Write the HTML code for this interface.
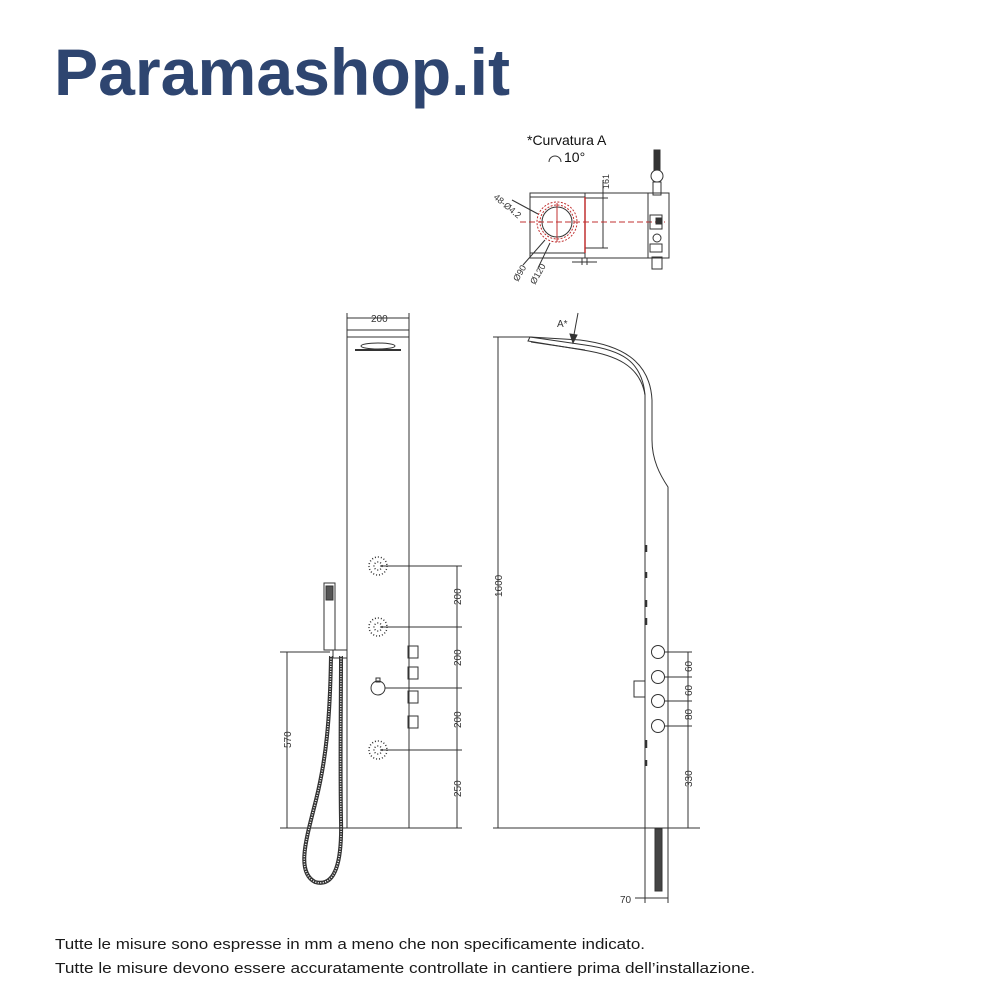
<!DOCTYPE html>
<html><head><meta charset="utf-8"><style>
html,body{margin:0;padding:0;background:#fff;width:1000px;height:1000px;overflow:hidden}
svg{display:block}
</style></head><body>
<svg width="1000" height="1000" viewBox="0 0 1000 1000" xmlns="http://www.w3.org/2000/svg">
<text x="54" y="95" font-family="Liberation Sans, sans-serif" font-weight="bold" font-size="66" fill="#2e4570" textLength="456" lengthAdjust="spacingAndGlyphs">Paramashop.it</text>

<g font-family="Liberation Sans, sans-serif" fill="#1a1a1a">
<text x="55" y="949" font-size="15" textLength="590" lengthAdjust="spacingAndGlyphs">Tutte le misure sono espresse in mm a meno che non specificamente indicato.</text>
<text x="55" y="973" font-size="15" textLength="700" lengthAdjust="spacingAndGlyphs">Tutte le misure devono essere accuratamente controllate in cantiere prima dell’installazione.</text>
</g>

<!-- top view -->
<g stroke="#333" stroke-width="1" fill="none">
<text x="527" y="145" font-family="Liberation Sans, sans-serif" font-size="14" fill="#111" stroke="none">*Curvatura A</text>
<path d="M549 162 a6 6 0 0 1 12 0"/>
<text x="564" y="162" font-family="Liberation Sans, sans-serif" font-size="14" fill="#111" stroke="none">10°</text>
<rect x="530" y="193" width="139" height="65"/>
<line x1="530" y1="197" x2="585" y2="197"/>
<line x1="530" y1="253" x2="585" y2="253"/>
<line x1="585" y1="193" x2="585" y2="258"/>
<line x1="648" y1="193" x2="648" y2="258"/>
<line x1="585" y1="198" x2="608" y2="198"/>
<line x1="585" y1="248" x2="608" y2="248"/>
<line x1="603" y1="180" x2="603" y2="248"/>
<text x="600" y="186" font-family="Liberation Sans, sans-serif" font-size="9" fill="#333" stroke="none" transform="rotate(-90 606 183)">161</text>
<line x1="582" y1="258" x2="582" y2="265"/><line x1="587" y1="258" x2="587" y2="265"/>
<line x1="572" y1="262" x2="597" y2="262"/>
<circle cx="557" cy="222" r="15" stroke="#333"/>
<circle cx="557" cy="222" r="20" stroke="#c03030" stroke-dasharray="2 1.5"/>
<circle cx="557" cy="222" r="17" stroke="#c03030" stroke-dasharray="2 1.5"/>
<line x1="520" y1="222" x2="665" y2="222" stroke="#c03030" stroke-dasharray="6 3"/>
<line x1="557" y1="203" x2="557" y2="242" stroke="#c03030"/>
<line x1="585" y1="197" x2="585" y2="253" stroke="#c03030" stroke-width="1.5"/>
<line x1="512" y1="200" x2="538" y2="214"/>
<line x1="523" y1="265" x2="545" y2="240"/>
<line x1="538" y1="268" x2="550" y2="243"/>
<text x="493" y="198" font-family="Liberation Sans, sans-serif" font-size="9" fill="#333" stroke="none" transform="rotate(40 493 198)">48-Ø4.2</text>
<text x="518" y="282" font-family="Liberation Sans, sans-serif" font-size="9" fill="#333" stroke="none" transform="rotate(-60 518 282)">Ø90</text>
<text x="535" y="285" font-family="Liberation Sans, sans-serif" font-size="9" fill="#333" stroke="none" transform="rotate(-60 535 285)">Ø120</text>
<rect x="654" y="150" width="6" height="22" fill="#333"/>
<circle cx="657" cy="176" r="6" fill="#fff"/>
<rect x="653" y="182" width="8" height="13"/>
<rect x="650" y="215" width="12" height="14"/><rect x="656" y="218" width="6" height="6" fill="#333"/>
<circle cx="657" cy="238" r="4"/>
<rect x="650" y="244" width="12" height="8"/>
<rect x="652" y="257" width="10" height="12"/>
</g>

<!-- front view -->
<g stroke="#333" stroke-width="1" fill="none">
<line x1="347" y1="318" x2="409" y2="318"/>
<line x1="347" y1="313" x2="347" y2="330"/><line x1="409" y1="313" x2="409" y2="330"/>
<text x="371" y="322" font-family="Liberation Sans, sans-serif" font-size="10" fill="#333" stroke="none">200</text>
<rect x="347" y="330" width="62" height="498"/>
<line x1="347" y1="337" x2="409" y2="337"/>
<ellipse cx="378" cy="346" rx="17" ry="3"/>
<line x1="355" y1="350" x2="401" y2="350" stroke-width="2"/>
<g stroke-dasharray="1 2" stroke-width="1.5">
<circle cx="378" cy="566" r="9"/><circle cx="378" cy="566" r="4"/>
<circle cx="378" cy="627" r="9"/><circle cx="378" cy="627" r="4"/>
<circle cx="378" cy="750" r="9"/><circle cx="378" cy="750" r="4"/>
</g>
<line x1="380" y1="566" x2="462" y2="566"/><line x1="380" y1="627" x2="462" y2="627"/>
<line x1="385" y1="688" x2="462" y2="688"/><line x1="380" y1="750" x2="462" y2="750"/>
<line x1="409" y1="828" x2="462" y2="828"/>
<line x1="457" y1="566" x2="457" y2="828"/>
<circle cx="378" cy="688" r="7"/><rect x="376" y="678" width="4" height="4"/>
<rect x="408" y="646" width="10" height="12"/><rect x="408" y="667" width="10" height="12"/>
<rect x="408" y="691" width="10" height="12"/><rect x="408" y="716" width="10" height="12"/>
<g font-family="Liberation Sans, sans-serif" font-size="10" fill="#333" stroke="none">
<text transform="translate(461 605) rotate(-90)">200</text>
<text transform="translate(461 666) rotate(-90)">200</text>
<text transform="translate(461 728) rotate(-90)">200</text>
<text transform="translate(461 797) rotate(-90)">250</text>
<text transform="translate(291 748) rotate(-90)">570</text>
</g>
<rect x="324" y="583" width="11" height="67"/>
<rect x="326" y="586" width="7" height="14" fill="#555"/>
<rect x="333" y="650" width="14" height="8"/>
<line x1="280" y1="652" x2="330" y2="652"/>
<line x1="287" y1="652" x2="287" y2="828"/>
<line x1="280" y1="828" x2="347" y2="828"/>
<path d="M331 656 C330 720 326 760 316 800 C306 840 296 872 315 882 C336 888 342 860 341 820 C340 760 341 700 341 656" stroke="#333" stroke-width="4"/>
<path d="M331 656 C330 720 326 760 316 800 C306 840 296 872 315 882 C336 888 342 860 341 820 C340 760 341 700 341 656" stroke="#fff" stroke-width="1.5" stroke-dasharray="1 1.5"/>
</g>

<!-- side view -->
<g stroke="#333" stroke-width="1" fill="none">
<line x1="493" y1="337" x2="530" y2="337"/>
<line x1="498" y1="337" x2="498" y2="828"/>
<line x1="493" y1="828" x2="700" y2="828"/>
<text transform="translate(502 597) rotate(-90)" font-family="Liberation Sans, sans-serif" font-size="10" fill="#333" stroke="none">1600</text>
<path d="M530 337 L585 345 C620 350 642 360 645 395 L645 828"/>
<path d="M531 342 L585 350"/>
<path d="M530 337 L528 341 L583 350 C615 355 640 365 645 395"/>
<path d="M530 337 L580 340 C620 345 650 360 652 400 L652 440 C652 460 660 475 668 487 L668 828"/>
<line x1="578" y1="313" x2="573" y2="340"/>
<path d="M570 334 L573 343 L577 335 Z" fill="#333"/>
<text x="557" y="327" font-family="Liberation Sans, sans-serif" font-size="10" fill="#333" stroke="none">A*</text>
<g stroke-width="2.5"><line x1="646" y1="545" x2="646" y2="552"/><line x1="646" y1="572" x2="646" y2="578"/><line x1="646" y1="600" x2="646" y2="607"/><line x1="646" y1="618" x2="646" y2="625"/><line x1="646" y1="740" x2="646" y2="748"/><line x1="646" y1="760" x2="646" y2="766"/></g>
<circle cx="658" cy="652" r="6.5"/><circle cx="658" cy="677" r="6.5"/><circle cx="658" cy="701" r="6.5"/><circle cx="658" cy="726" r="6.5"/>
<line x1="664" y1="652" x2="692" y2="652"/><line x1="664" y1="677" x2="692" y2="677"/>
<line x1="664" y1="701" x2="692" y2="701"/><line x1="664" y1="726" x2="692" y2="726"/>
<line x1="688" y1="652" x2="688" y2="828"/>
<rect x="634" y="681" width="11" height="16"/>
<g font-family="Liberation Sans, sans-serif" font-size="10" fill="#333" stroke="none">
<text transform="translate(692 672) rotate(-90)">60</text>
<text transform="translate(692 696) rotate(-90)">60</text>
<text transform="translate(692 720) rotate(-90)">80</text>
<text transform="translate(692 787) rotate(-90)">330</text>
<text x="620" y="903">70</text>
</g>
<line x1="645" y1="828" x2="645" y2="903"/><line x1="668" y1="828" x2="668" y2="903"/>
<line x1="635" y1="898" x2="668" y2="898"/>
<rect x="655" y="829" width="7" height="62" fill="#444"/>
</g>
</svg>
</body></html>
